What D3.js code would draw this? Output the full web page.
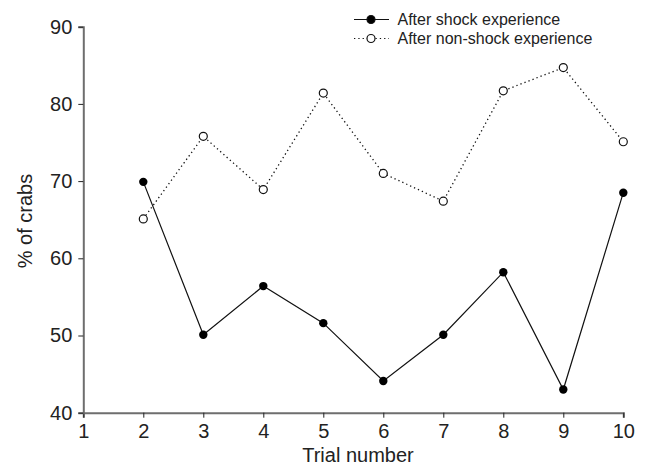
<!DOCTYPE html>
<html><head><meta charset="utf-8">
<script src="https://cdn.jsdelivr.net/npm/d3@7"></script>
<style>body{margin:0;background:#fff}svg{display:block}text{font-family:"Liberation Sans",Arial,sans-serif}</style>
</head><body><svg id="c" width="647" height="469"></svg>
<script>
const trials = [2,3,4,5,6,7,8,9,10];
const shock = [69.9,50.1,56.4,51.6,44.1,50.1,58.2,43.0,68.5];
const nonShock = [65.1,75.8,68.9,81.4,71.0,67.4,81.7,84.7,75.1];
const xTicks = [1,2,3,4,5,6,7,8,9,10];
const yTicks = [40,50,60,70,80,90];
const seriesNames = ["After shock experience","After non-shock experience"];

const svg = d3.select("#c");
const x = d3.scaleLinear().domain([1,10]).range([83.3,623.3]);
const y = d3.scaleLinear().domain([40,90]).range([412.7,26.7]);
const axisCol = "#6e6e6e";

const gx = svg.append("g").attr("transform","translate(0,412.7)")
  .call(d3.axisBottom(x).tickValues(xTicks).tickFormat(d3.format("d")).tickSizeOuter(0).tickSize(5).tickPadding(6));
const gy = svg.append("g").attr("transform","translate(83.3,0)")
  .call(d3.axisLeft(y).tickValues(yTicks).tickSizeOuter(0).tickSize(5).tickPadding(6));
[gx,gy].forEach(g=>{
  g.select(".domain").attr("stroke",axisCol).attr("stroke-width",2);
  g.selectAll(".tick line").attr("stroke","#222").attr("stroke-width",1);
  g.selectAll(".tick text").attr("fill","#222").style("font-size","20px").style("font-family","'Liberation Sans',Arial,sans-serif");
});

const line = d3.line().x((d,i)=>x(trials[i])).y(d=>y(d));
svg.append("path").datum(nonShock).attr("d",line).attr("fill","none")
  .attr("stroke","#111").attr("stroke-width",1.3).attr("stroke-dasharray","1.3,3");
svg.append("path").datum(shock).attr("d",line).attr("fill","none")
  .attr("stroke","#111").attr("stroke-width",1.2);
svg.selectAll(".ns").data(nonShock).enter().append("circle")
  .attr("cx",(d,i)=>x(trials[i])).attr("cy",d=>y(d)).attr("r",4)
  .attr("fill","#fff").attr("stroke","#111").attr("stroke-width",1.2);
svg.selectAll(".sh").data(shock).enter().append("circle")
  .attr("cx",(d,i)=>x(trials[i])).attr("cy",d=>y(d)).attr("r",4.2)
  .attr("fill","#000");

// axis titles
svg.append("text").attr("x",358).attr("y",462).attr("text-anchor","middle")
  .style("font-size","20px").attr("fill","#222").text("Trial number");
svg.append("text").attr("transform","translate(32,221) rotate(-90)").attr("text-anchor","middle")
  .style("font-size","20px").attr("fill","#222").text("% of crabs");

// legend
const leg = svg.append("g");
const rows = [{y:19.5,dash:null,fill:"#000"},{y:38.5,dash:"1.3,3",fill:"#fff"}];
rows.forEach((r,i)=>{
  leg.append("line").attr("x1",354).attr("x2",389).attr("y1",r.y).attr("y2",r.y)
    .attr("stroke","#111").attr("stroke-width",1.2).attr("stroke-dasharray",r.dash);
  leg.append("circle").attr("cx",371).attr("cy",r.y).attr("r",4)
    .attr("fill",r.fill).attr("stroke","#111").attr("stroke-width",1.2);
  leg.append("text").attr("x",397.5).attr("y",r.y+5.5).style("font-size","16px")
    .attr("fill","#222").text(seriesNames[i]);
});
</script></body></html>
